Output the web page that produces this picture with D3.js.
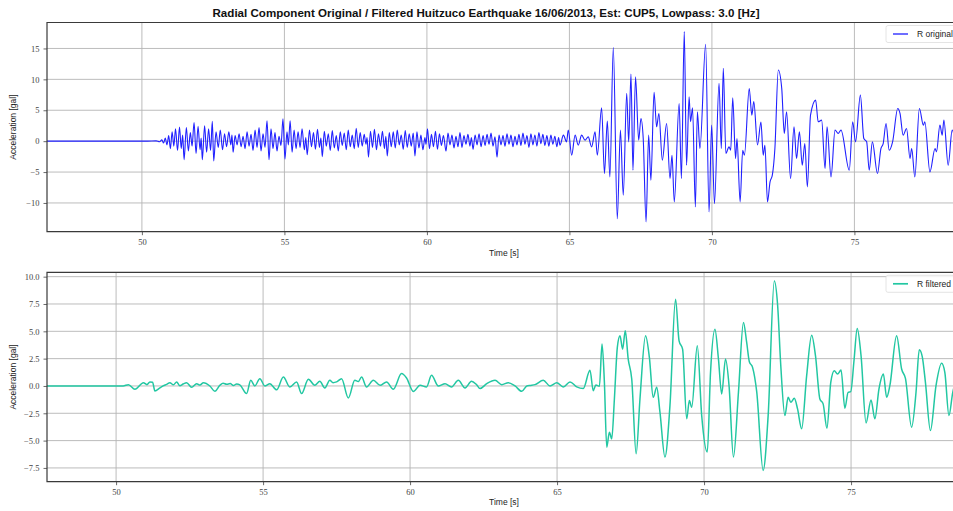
<!DOCTYPE html>
<html>
<head>
<meta charset="utf-8">
<script src="https://cdn.jsdelivr.net/npm/d3@7"></script>
<style>
  body { margin: 0; background: #fff; }
  svg { display: block; }
</style>
</head>
<body>
<svg id="chart" width="953" height="511"></svg>
<script>
// ---- chart text and ticks ----
const titleText = "Radial Component Original / Filtered Huitzuco Earthquake 16/06/2013, Est: CUP5, Lowpass: 3.0 [Hz]";
const xLabel = "Time [s]";
const yLabel = "Acceleration [gal]";
const xTicks = [50, 55, 60, 65, 70, 75];
const yTicksOriginal = [-10, -5, 0, 5, 10, 15];
const yTicksFiltered = [-7.5, -5, -2.5, 0, 2.5, 5, 7.5, 10];
const seriesNames = ["R original", "R filtered"];

// ---- radial component, original record: [time s, acceleration gal] ----
const rOriginal = [
  [46.67,0],[50.2,0],[50.5,0.05],[50.62,-0.1],[50.7,0.2],[50.76,-0.3],[50.82,0.5],[50.88,-0.6],[50.94,0.9],[51.0,-1.2],
  [51.06,1.5],[51.12,-0.8],[51.18,2.0],[51.25,-1.5],[51.32,2.3],[51.38,-1.2],[51.43,1.0],[51.48,-3.0],[51.56,2.2],[51.63,-1.6],
  [51.70,1.4],[51.76,-0.8],[51.83,3.0],[51.90,-2.0],[51.97,2.4],[52.04,-1.4],[52.08,0.5],[52.12,-3.0],[52.20,2.5],[52.27,-1.8],
  [52.34,2.0],[52.41,-1.5],[52.47,3.2],[52.52,-3.2],[52.60,1.5],[52.68,-1.0],[52.75,1.8],[52.83,-1.4],[52.90,1.2],[52.97,-0.9],
  [53.05,1.5],[53.12,-0.6],[53.16,1.0],[53.20,-1.8],[53.27,0.9],[53.34,-0.6],[53.41,1.2],[53.48,-0.9],[53.55,0.8],[53.62,-1.2],
  [53.69,1.5],[53.76,-0.8],[53.83,1.1],[53.90,-1.5],[53.97,1.8],[54.04,-1.0],[54.11,2.2],[54.18,-1.6],[54.25,1.2],[54.32,-1.0],
  [54.39,3.3],[54.46,-3.0],[54.53,2.0],[54.60,-1.2],[54.67,1.4],[54.74,-1.6],[54.81,0.8],[54.88,-0.7],[54.95,3.6],[55.02,-2.9],
  [55.09,1.5],[55.14,-0.6],[55.20,3.3],[55.27,-1.8],[55.34,1.8],[55.41,-1.2],[55.48,1.5],[55.55,-1.0],[55.62,2.0],[55.70,-1.4],
  [55.75,0.6],[55.80,-2.2],[55.88,1.8],[55.95,-0.9],[56.02,1.4],[56.09,-1.3],[56.16,1.9],[56.23,-1.0],[56.28,0.5],[56.33,-2.5],
  [56.40,1.6],[56.47,-0.8],[56.54,1.2],[56.61,-1.5],[56.68,1.7],[56.75,-1.1],[56.82,0.9],[56.89,-1.6],[56.96,1.5],[57.03,-0.7],
  [57.10,1.3],[57.17,-1.4],[57.24,1.8],[57.31,-0.9],[57.38,1.0],[57.45,-1.2],[57.52,2.1],[57.59,-1.0],[57.66,1.4],[57.73,-0.8],
  [57.80,1.1],[57.86,-0.5],[57.90,0.6],[57.95,-2.6],[58.02,1.6],[58.09,-1.0],[58.16,1.9],[58.23,-1.4],[58.30,1.2],[58.37,-0.8],
  [58.44,1.6],[58.51,-1.2],[58.56,0.8],[58.61,-2.4],[58.68,1.4],[58.75,-0.9],[58.82,1.5],[58.89,-1.1],[58.96,1.8],[59.03,-0.6],
  [59.10,1.0],[59.17,-1.3],[59.24,1.7],[59.31,-1.0],[59.38,1.2],[59.45,-0.8],[59.52,1.3],[59.58,-2.4],[59.65,1.5],[59.72,-1.1],
  [59.79,1.0],[59.86,-1.4],[59.93,0.6],[59.97,-0.5],[60.02,2.0],[60.09,-1.2],[60.16,1.1],[60.23,-0.9],[60.30,1.6],[60.37,-1.3],
  [60.44,1.2],[60.51,-0.7],[60.58,0.9],[60.67,-1.6],[60.74,1.3],[60.81,-0.6],[60.88,1.0],[60.95,-1.1],[61.02,0.8],[61.09,-0.9],
  [61.16,1.4],[61.23,-1.0],[61.30,0.9],[61.37,-0.5],[61.44,1.1],[61.51,-0.8],[61.56,0.6],[61.62,-1.3],[61.69,1.0],[61.76,-0.6],
  [61.83,1.2],[61.90,-0.9],[61.97,0.9],[62.04,-0.7],[62.11,1.1],[62.18,-0.5],[62.25,1.3],[62.32,-0.8],[62.39,0.7],[62.46,-2.6],
  [62.53,1.0],[62.60,-0.6],[62.67,0.9],[62.74,-0.8],[62.81,1.2],[62.88,-0.5],[62.95,1.0],[63.02,-0.9],[63.09,0.8],[63.16,-0.6],
  [63.23,1.1],[63.30,-0.7],[63.37,1.3],[63.44,-0.5],[63.51,0.9],[63.58,-1.0],[63.65,1.2],[63.72,-0.6],[63.79,1.0],[63.86,-0.8],
  [63.93,1.4],[64.00,-0.4],[64.07,1.1],[64.14,-0.7],[64.21,0.9],[64.28,-0.8],[64.35,1.0],[64.42,-0.5],[64.49,0.8],[64.56,-0.9],
  [64.62,0.6],[64.67,-0.65],[64.79,0.97],[64.90,-0.11],[64.96,1.78],[65.08,-2.27],[65.20,0.97],[65.31,-0.65],[65.43,0.97],[65.55,0.16],
  [65.66,0.70],[65.78,-0.92],[65.90,1.51],[65.98,-2.27],[66.13,5.40],[66.23,-5.24],[66.33,3.24],[66.42,-5.78],[66.54,15.13],[66.68,-12.54],
  [66.79,1.78],[66.89,-8.75],[67.01,7.73],[67.08,-0.11],[67.16,10.86],[67.23,-4.70],[67.32,10.43],[67.43,0.16],[67.51,3.67],[67.59,0.43],
  [67.69,-13.07],[67.78,0.97],[67.86,-6.32],[67.97,7.89],[68.06,2.32],[68.14,4.48],[68.26,-3.08],[68.41,2.86],[68.53,-6.05],[68.60,-2.27],
  [68.68,-9.83],[68.85,6.10],[68.93,-6.05],[69.03,17.72],[69.11,-3.89],[69.20,7.18],[69.25,3.13],[69.32,5.40],[69.42,-10.64],[69.49,4.75],
  [69.58,-1.19],[69.78,15.67],[69.90,-11.45],[69.99,2.59],[70.09,-10.10],[70.25,9.35],[70.33,-1.19],[70.40,11.78],[70.49,-2.00],[70.60,-0.92],
  [70.66,-1.46],[70.73,7.02],[70.83,-2.81],[70.88,0.43],[70.99,-9.83],[71.08,-1.46],[71.14,-2.27],[71.31,8.50],[71.40,4.21],[71.47,6.40],
  [71.60,-0.60],[71.72,3.10],[71.80,-2.27],[71.86,-0.65],[71.95,-9.83],[72.04,-6.59],[72.12,-5.51],[72.21,-1.19],[72.33,11.51],[72.45,8.54],
  [72.54,1.24],[72.62,4.75],[72.76,-6.05],[72.88,2.32],[72.97,-2.81],[73.07,1.51],[73.17,-3.89],[73.26,-0.38],[73.35,-7.40],[73.46,4.21],
  [73.64,6.64],[73.73,3.13],[73.85,3.40],[73.97,-4.43],[74.04,2.32],[74.18,-5.78],[74.32,1.78],[74.43,1.24],[74.53,1.78],[74.82,-4.70],
  [74.94,3.13],[75.04,-0.11],[75.21,7.45],[75.33,0.43],[75.43,-0.11],[75.52,-4.70],[75.63,-0.11],[75.81,-5.24],[75.93,-1.19],[76.01,-0.38],
  [76.11,2.86],[76.22,-1.46],[76.34,-0.11],[76.52,5.29],[76.60,4.48],[76.71,0.97],[76.83,2.05],[76.95,-2.81],[77.01,-1.19],[77.12,-5.78],
  [77.28,5.29],[77.42,2.59],[77.47,3.13],[77.65,-4.97],[77.83,-1.19],[77.88,-1.73],[78.00,2.59],[78.08,0.97],[78.14,3.40],[78.29,-3.89],
  [78.43,1.78],[78.60,-1.0],[78.74,2.0]
];

// ---- radial component, low-pass filtered (3.0 Hz): [time s, acceleration gal] ----
const rFiltered = [
  [47.65,0],[50.24,0],[50.42,0.12],[50.64,-0.30],[50.93,0.30],[51.05,0.12],[51.15,0.37],[51.24,0.35],[51.32,-0.45],[51.49,-0.18],
  [51.60,0.0],[51.72,0.15],[51.83,0.30],[51.95,0.10],[52.06,0.37],[52.17,0.02],[52.28,0.18],[52.40,0.30],[52.57,-0.12],[52.74,0.21],
  [52.85,0.08],[52.97,0.30],[53.19,0.0],[53.36,-0.49],[53.53,0.06],[53.64,0.25],[53.76,0.15],[53.88,0.22],[53.99,0.04],[54.10,0.18],
  [54.21,0.10],[54.44,-0.70],[54.58,0.52],[54.72,0.0],[54.89,0.67],[55.06,0.0],[55.23,0.21],[55.46,-0.35],[55.69,0.82],[55.91,-0.09],
  [56.14,0.37],[56.31,-0.70],[56.54,0.61],[56.76,0.06],[56.93,0.43],[57.10,-0.18],[57.27,0.52],[57.38,0.30],[57.50,0.37],[57.67,0.67],
  [57.90,-1.10],[58.12,0.52],[58.24,0.40],[58.35,0.82],[58.52,-0.09],[58.75,0.52],[58.98,0.06],[59.20,0.37],[59.43,-0.30],[59.71,1.13],
  [59.88,0.73],[60.11,-0.50],[60.34,0.06],[60.56,-0.09],[60.73,0.97],[60.96,0.0],[61.19,0.21],[61.41,-0.09],[61.64,0.52],[61.87,-0.18],
  [62.09,0.43],[62.26,0.12],[62.38,-0.24],[62.61,0.21],[62.89,0.52],[63.12,0.12],[63.34,0.30],[63.57,0.0],[63.80,-0.49],[63.97,0.0],
  [64.10,0.05],[64.25,0.12],[64.53,0.52],[64.76,0.0],[64.99,0.30],[65.21,-0.09],[65.44,0.37],[65.67,-0.09],[65.89,-0.24],[66.12,1.43],
  [66.23,-0.43],[66.32,0.09],[66.44,-0.03],[66.53,3.83],[66.61,0.33],[66.69,-5.60],[66.78,-4.23],[66.86,-4.84],[66.95,-1.19],[67.05,3.53],
  [67.14,4.59],[67.23,3.37],[67.32,5.05],[67.42,2.46],[67.54,0.64],[67.69,-6.21],[67.82,-1.19],[68.01,4.59],[68.14,2.61],[68.27,-1.04],
  [68.39,-0.12],[68.50,-2.40],[68.67,-6.51],[68.84,-1.80],[69.03,7.94],[69.15,4.13],[69.27,3.37],[69.41,-3.01],[69.50,-1.34],[69.58,-1.95],
  [69.77,3.68],[69.92,-2.71],[70.11,-6.05],[70.22,1.25],[70.37,5.20],[70.49,2.46],[70.60,-0.73],[70.73,2.46],[70.85,0.03],[71.00,-6.51],
  [71.17,-0.58],[71.34,5.81],[71.45,3.98],[71.54,2.22],[71.65,1.70],[71.79,-0.50],[72.01,-7.73],[72.18,-2.71],[72.39,9.61],[72.50,7.48],
  [72.61,1.85],[72.75,-2.71],[72.86,-1.04],[72.95,-1.49],[73.07,-1.13],[73.18,-2.10],[73.32,-3.92],[73.49,0.94],[73.66,4.65],[73.79,2.77],
  [73.94,-1.19],[74.05,-1.64],[74.18,-3.86],[74.31,0.33],[74.43,1.40],[74.54,1.09],[74.66,1.46],[74.79,-2.04],[74.90,-0.58],[74.99,-0.52],
  [75.10,2.31],[75.21,5.26],[75.34,2.77],[75.51,-3.38],[75.68,-1.28],[75.81,-3.01],[75.95,-0.27],[76.10,1.09],[76.21,-1.04],[76.32,0.03],
  [76.55,4.59],[76.72,1.55],[76.85,0.70],[77.06,-3.77],[77.21,-0.58],[77.32,3.31],[77.42,2.71],[77.53,0.33],[77.70,-4.08],[77.89,0.03],
  [78.08,2.07],[78.19,1.25],[78.33,-2.71],[78.46,-0.58],[78.60,0.6],[78.74,1.0]
];

// ---- layout ----
const svg = d3.select("#chart");
const plotLeft = 47, plotRight = 961;   // right spine falls just past the canvas edge
const minus = s => s.replace("-", "\u2212");

svg.append("text")
  .attr("x", 486).attr("y", 16.5)
  .attr("text-anchor", "middle")
  .attr("font-family", "'Liberation Sans', Arial, sans-serif")
  .attr("font-weight", "bold")
  .attr("font-size", 10.5)
  .attr("textLength", 547)
  .attr("lengthAdjust", "spacingAndGlyphs")
  .attr("fill", "#111")
  .text(titleText);

const panels = [
  { id: "orig", data: rOriginal, name: seriesNames[0], color: "#2020ff", width: 1.1,
    top: 22.5, bottom: 231.7, xDomain: [46.67, 78.74], yDomain: [-14.65, 19.2],
    yTicks: yTicksOriginal, yFmt: d3.format("d"), xLabelY: 256 },
  { id: "filt", data: rFiltered, name: seriesNames[1], color: "#22c7a2", width: 1.5,
    top: 272.3, bottom: 481.7, xDomain: [47.65, 78.74], yDomain: [-8.76, 10.4],
    yTicks: yTicksFiltered, yFmt: d3.format(".1f"), xLabelY: 505 }
];

panels.forEach(p => {
  const x = d3.scaleLinear().domain(p.xDomain).range([plotLeft, plotRight]);
  const y = d3.scaleLinear().domain(p.yDomain).range([p.bottom, p.top]);
  const g = svg.append("g");

  // clip region for the plotted trace
  svg.append("clipPath").attr("id", "clip-" + p.id)
    .append("rect")
    .attr("x", plotLeft).attr("y", p.top)
    .attr("width", plotRight - plotLeft).attr("height", p.bottom - p.top);

  // grid
  g.append("g").selectAll("line").data(xTicks).join("line")
    .attr("x1", d => x(d)).attr("x2", d => x(d))
    .attr("y1", p.top).attr("y2", p.bottom)
    .attr("stroke", "#b4b4b4").attr("stroke-width", 0.9);
  g.append("g").selectAll("line").data(p.yTicks).join("line")
    .attr("x1", plotLeft).attr("x2", plotRight)
    .attr("y1", d => y(d)).attr("y2", d => y(d))
    .attr("stroke", "#b4b4b4").attr("stroke-width", 0.9);

  // trace
  const line = d3.line()
    .x(d => x(d[0])).y(d => y(d[1]))
    .curve(d3.curveMonotoneX);
  g.append("path")
    .datum(p.data)
    .attr("clip-path", "url(#clip-" + p.id + ")")
    .attr("fill", "none")
    .attr("stroke", p.color)
    .attr("stroke-width", p.width)
    .attr("stroke-linejoin", "round")
    .attr("d", line);

  // axes
  const xAxis = g.append("g")
    .attr("transform", `translate(0,${p.bottom})`)
    .call(d3.axisBottom(x).tickValues(xTicks).tickSize(3.5).tickPadding(4).tickFormat(d3.format("d")));
  const yAxis = g.append("g")
    .attr("transform", `translate(${plotLeft},0)`)
    .call(d3.axisLeft(y).tickValues(p.yTicks).tickSize(3.5).tickPadding(4).tickFormat(d => minus(p.yFmt(d))));
  [xAxis, yAxis].forEach(a => {
    a.select(".domain").remove();
    a.selectAll(".tick line").attr("stroke", "#444").attr("stroke-width", 0.8);
    a.selectAll(".tick text")
      .attr("font-family", "'Liberation Serif', 'DejaVu Serif', serif")
      .attr("font-size", 8.5)
      .attr("fill", "#444");
  });

  // spines (left, top, bottom)
  g.append("path")
    .attr("d", `M${plotRight},${p.top}H${plotLeft}V${p.bottom}H${plotRight}`)
    .attr("fill", "none").attr("stroke", "#3a3a3a").attr("stroke-width", 1.2);

  // axis labels
  g.append("text")
    .attr("x", 504).attr("y", p.xLabelY)
    .attr("text-anchor", "middle")
    .attr("font-family", "'Liberation Sans', Arial, sans-serif")
    .attr("font-size", 8.5).attr("fill", "#222")
    .text(xLabel);
  g.append("text")
    .attr("transform", `translate(16,${(p.top + p.bottom) / 2}) rotate(-90)`)
    .attr("text-anchor", "middle")
    .attr("font-family", "'Liberation Sans', Arial, sans-serif")
    .attr("font-size", 8.5).attr("fill", "#222")
    .text(yLabel);

  // legend
  const lg = g.append("g").attr("transform", `translate(886,${p.top + 3})`);
  lg.append("rect")
    .attr("width", 80).attr("height", 17).attr("rx", 2)
    .attr("fill", "#fff").attr("fill-opacity", 0.8)
    .attr("stroke", "#dddddd").attr("stroke-width", 0.8);
  lg.append("line")
    .attr("x1", 7).attr("x2", 22).attr("y1", 8.5).attr("y2", 8.5)
    .attr("stroke", p.color).attr("stroke-width", p.width + 0.2);
  lg.append("text")
    .attr("x", 31).attr("y", 11.5)
    .attr("font-family", "'Liberation Sans', Arial, sans-serif")
    .attr("font-size", 8.5).attr("fill", "#222")
    .text(p.name);
});
</script>
</body>
</html>
